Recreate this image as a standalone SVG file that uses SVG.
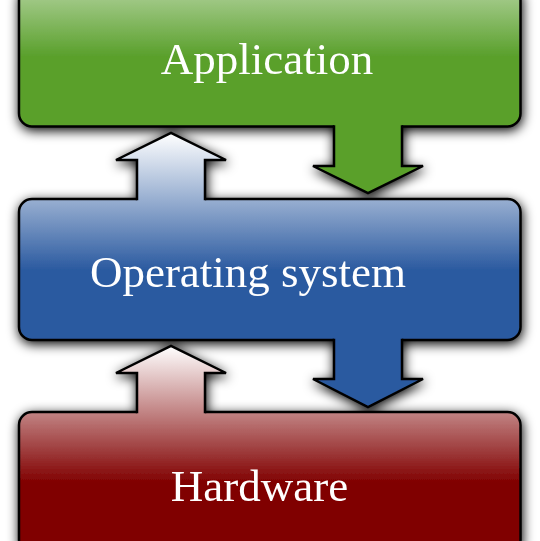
<svg xmlns="http://www.w3.org/2000/svg" width="540" height="541" viewBox="0 0 540 541">
  <defs>
    <linearGradient id="gGreen" gradientUnits="userSpaceOnUse" x1="0" y1="-80" x2="0" y2="56">
      <stop offset="0" stop-color="#ffffff"/>
      <stop offset="1" stop-color="#5aa02c"/>
    </linearGradient>
    <linearGradient id="gBlue" gradientUnits="userSpaceOnUse" x1="0" y1="133" x2="0" y2="270">
      <stop offset="0" stop-color="#ffffff"/>
      <stop offset="1" stop-color="#2b5aa0"/>
    </linearGradient>
    <linearGradient id="gRed" gradientUnits="userSpaceOnUse" x1="0" y1="346" x2="0" y2="483">
      <stop offset="0" stop-color="#ffffff"/>
      <stop offset="1" stop-color="#800000"/>
    </linearGradient>
    <filter id="shadow" x="-10%" y="-10%" width="120%" height="120%">
      <feGaussianBlur in="SourceAlpha" stdDeviation="6" result="b"/>
      <feOffset in="b" dx="1" dy="3" result="o"/>
      <feComponentTransfer in="o" result="s">
        <feFuncA type="linear" slope="1"/>
      </feComponentTransfer>
      <feMerge>
        <feMergeNode in="s"/>
        <feMergeNode in="SourceGraphic"/>
      </feMerge>
    </filter>
  </defs>
  <style>
    .box { stroke: #000; stroke-width: 2.5; }
    .afill { stroke: none; }
    .aline { fill: none; stroke: #000; stroke-width: 2.5; stroke-linejoin: miter; }
    .label { font-family: "Liberation Serif", "Times New Roman", serif; font-size: 45px; fill: #ffffff; text-anchor: middle; }
  </style>
  <rect width="540" height="541" fill="#ffffff"/>
  <g filter="url(#shadow)">
    <g id="node-application">
      <rect class="box" x="19" y="-14.5" width="501.5" height="141" rx="13" fill="url(#gGreen)"/>
      <text class="label" x="267" y="74">Application</text>
    </g>
    <g id="node-os">
      <rect class="box" x="19" y="199" width="501.5" height="141" rx="13" fill="url(#gBlue)"/>
      <text class="label" x="248" y="287">Operating system</text>
    </g>
    <g id="node-hardware">
      <rect class="box" x="19" y="412" width="501.5" height="141" rx="13" fill="url(#gRed)"/>
      <text class="label" x="259.5" y="501">Hardware</text>
    </g>
    <g id="connectors">
      <g id="os-to-application">
        <path class="afill" fill="url(#gBlue)" d="M137,203 L137,160 L116,160 L171,133 L226,160 L205,160 L205,203 Z"/>
        <path class="aline" d="M137,200.25 L137,160 L116,160 L171,133 L226,160 L205,160 L205,200.25"/>
      </g>
      <g id="application-to-os">
        <path class="afill" fill="#5aa02c" d="M334,122.5 L334,166 L313,166 L368,193 L423,166 L402,166 L402,122.5 Z"/>
        <path class="aline" d="M334,125.25 L334,166 L313,166 L368,193 L423,166 L402,166 L402,125.25"/>
      </g>
      <g id="hardware-to-os">
        <path class="afill" fill="url(#gRed)" d="M137,416 L137,373 L116,373 L171,346 L226,373 L205,373 L205,416 Z"/>
        <path class="aline" d="M137,413.25 L137,373 L116,373 L171,346 L226,373 L205,373 L205,413.25"/>
      </g>
      <g id="os-to-hardware">
        <path class="afill" fill="#2b5aa0" d="M334,336 L334,379 L313,379 L368,407 L423,379 L402,379 L402,336 Z"/>
        <path class="aline" d="M334,338.75 L334,379 L313,379 L368,407 L423,379 L402,379 L402,338.75"/>
      </g>
    </g>
  </g>
</svg>
